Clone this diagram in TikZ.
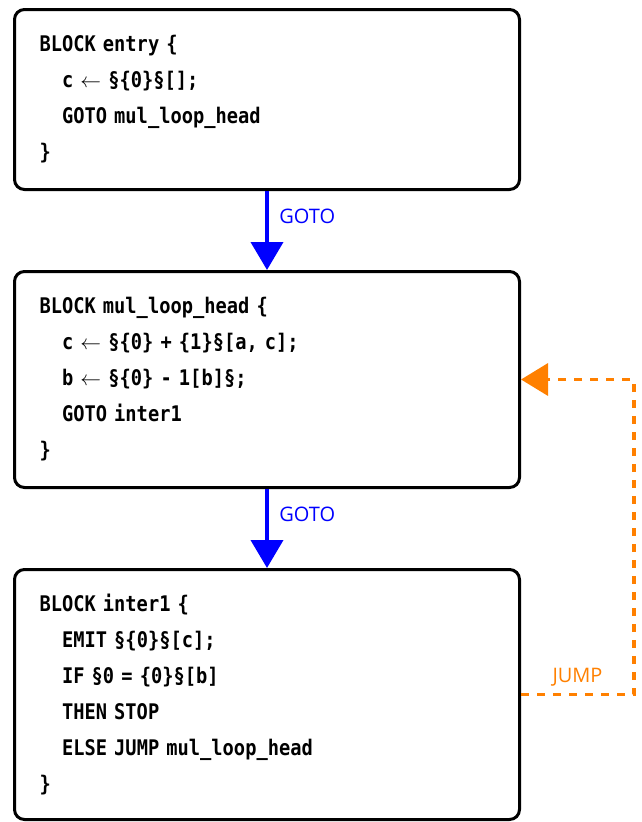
\documentclass[tikz,border=0pt]{standalone}
\usepackage{fontspec}
\usepackage{tikz}
\usetikzlibrary{arrows.meta,positioning}
\newfontfamily\codefont[FakeStretch=0.87]{DejaVu Sans Mono}
\newfontfamily\labelfont{Open Sans}
\definecolor{Ink}{HTML}{000000}
\definecolor{GotoBlue}{HTML}{0000FF}
\definecolor{JumpOrange}{HTML}{FF8000}
\newcommand{\ind}{\hphantom{xx}}
\newcommand{\assign}{$\leftarrow$}
\tikzset{
  block/.style={draw=Ink,line width=3pt,rounded corners=10pt,fill=white,text width=455pt,inner xsep=25pt,inner ysep=0pt,align=left,font=\codefont\bfseries\fontsize{21.5}{36}\selectfont},
  gotoarrow/.style={-{Triangle[width=32pt,length=28pt]},line width=4pt,draw=GotoBlue},
  jumparrow/.style={-{Triangle[width=32pt,length=27pt]},line width=3.5pt,draw=JumpOrange,dash pattern=on 8pt off 8pt},
  edgelabel/.style={font=\labelfont\fontsize{20}{24}\selectfont}
}
\begin{document}
\begin{tikzpicture}[x=1pt,y=1pt,node distance=79pt]
  \useasboundingbox (0,0) rectangle (641,-822);
  \node[block,minimum height=180pt] (entry) at (267,-99.5) {BLOCK entry \{\\
    \ind c \assign{} §\{0\}§[];\\
    \ind GOTO mul\_loop\_head\\
    \}};
  \node[block,minimum height=216pt,below=of entry] (loophead) {BLOCK mul\_loop\_head \{\\
    \ind c \assign{} §\{0\} + \{1\}§[a, c];\\
    \ind b \assign{} §\{0\} - 1[b]§;\\
    \ind GOTO inter1\\
    \}};
  \node[block,minimum height=250pt,below=of loophead] (inter1) {BLOCK inter1 \{\\
    \ind EMIT §\{0\}§[c];\\
    \ind IF §0 = \{0\}§[b]\\
    \ind THEN STOP\\
    \ind ELSE JUMP mul\_loop\_head\\
    \}};
  \draw[gotoarrow] (entry) -- node[edgelabel,text=GotoBlue,right=7pt,pos=0.32] {GOTO} (loophead);
  \draw[gotoarrow] (loophead) -- node[edgelabel,text=GotoBlue,right=7pt,pos=0.32] {GOTO} (inter1);
  % back edge of the loop, round the right side
  \draw[jumparrow] (inter1.east) -- node[edgelabel,text=JumpOrange,above=3pt] {JUMP} ++(113,0) |- (loophead.east);
\end{tikzpicture}
\end{document}
